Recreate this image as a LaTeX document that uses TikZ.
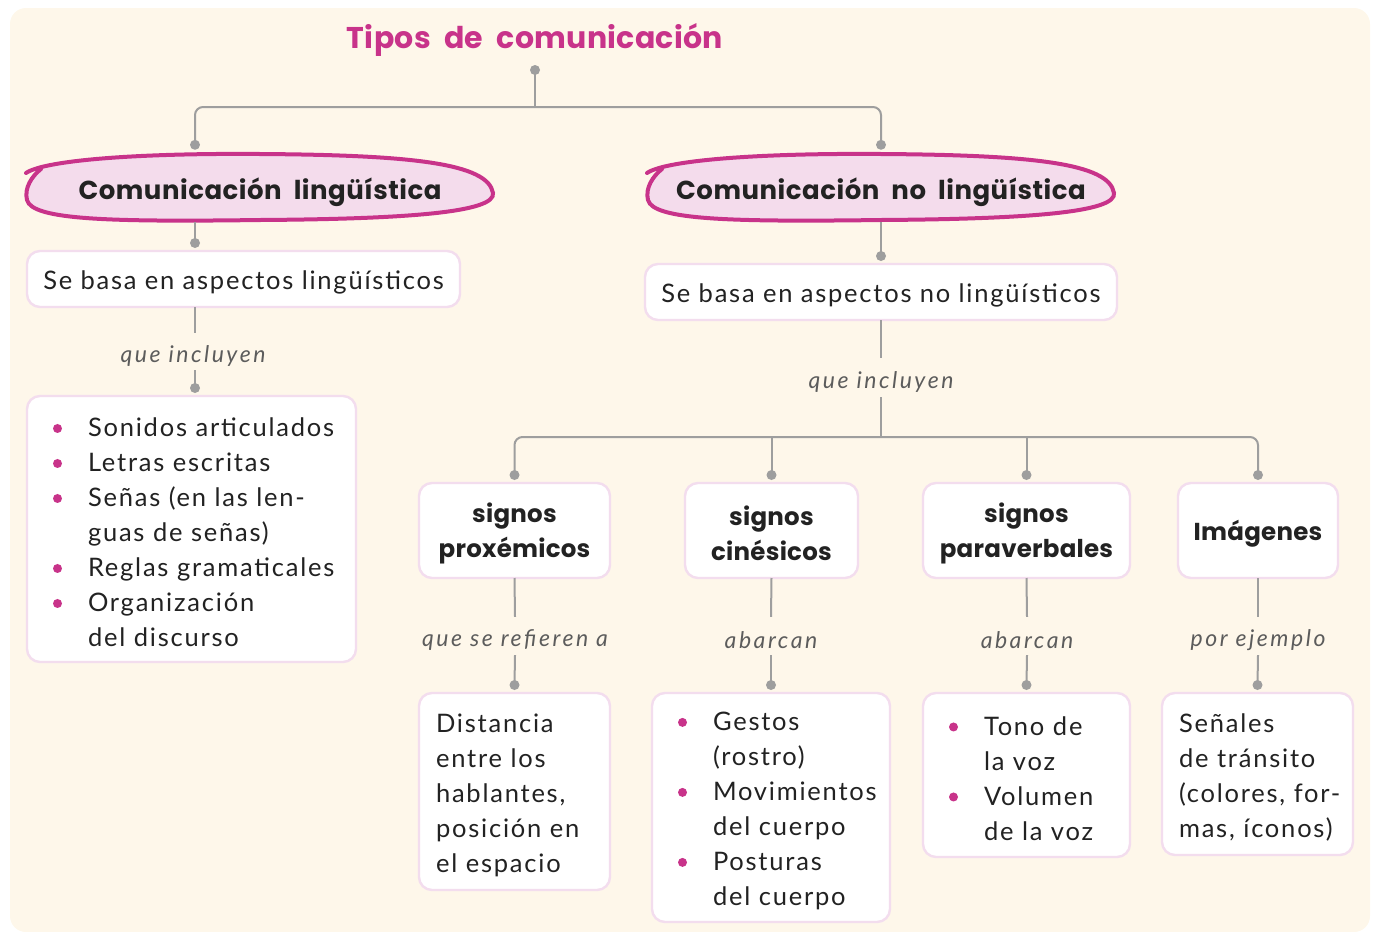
\documentclass[tikz,border=0pt]{standalone}
\usepackage{fontspec}
\setmainfont{Lato}[LetterSpace=7]
\newfontfamily\headfont{Poppins}[LetterSpace=2]
\newfontfamily\boldfont{Poppins}[LetterSpace=1]
\newfontfamily\labfont{Lato}[LetterSpace=11]
\usetikzlibrary{calc}
\definecolor{bgc}{HTML}{FEF7EA}
\definecolor{accent}{HTML}{C8338A}
\definecolor{ellfill}{HTML}{F4DCEC}
\definecolor{boxline}{HTML}{F3DDEE}
\definecolor{linec}{HTML}{9E9E9E}
\definecolor{txt}{HTML}{222222}
\definecolor{labc}{HTML}{5C5C5C}
\newcommand\bul{\makebox[35pt][l]{\tikz[baseline=-0.33em]\fill[accent] (0,0) circle (4.5pt);}}
\newcommand\ind{\hspace*{35pt}}
\newcommand\stb{\rule{0pt}{26pt}}
\newcommand\stl{\rule{0pt}{25pt}}
\newcommand\ste{\rule{0pt}{30pt}}
\newcommand\blobshape{(-234,-15) .. controls (-215,-28) and (-120,-35) .. (0,-34)
  .. controls (150,-33) and (228,-25) .. (233,5)
  .. controls (236,24) and (150,31) .. (0,32)
  .. controls (-150,34) and (-228,32) .. (-233,12)
  .. controls (-236,0) and (-228,-12) .. (-219,-19)}
\tikzset{
  conn/.style={draw=linec, line width=2pt},
  bx/.style={draw=boxline, line width=2.4pt, fill=white, rounded corners=13pt, text=txt,
    font=\fontsize{25.5}{35}\selectfont, outer sep=0pt},
  tb/.style={bx, inner xsep=8pt, inner ysep=0pt, align=left},
  bold/.style={bx, font=\boldfont\bfseries\fontsize{24.5}{35}\selectfont, align=center},
  lab/.style={font=\labfont\itshape\fontsize{23}{26}\selectfont, text=labc, inner sep=0pt, minimum height=38pt},
  head/.style={font=\headfont\bfseries\fontsize{26}{30}\selectfont, text=txt, inner sep=0pt, minimum width=470pt, minimum height=68pt},
}
\begin{document}
\begin{tikzpicture}[x=1pt,y=-1pt]
\useasboundingbox (0,0) rectangle (1374,932);
\fill[bgc, rounded corners=16pt] (10,8) rectangle (1370,932);
% title
\node[font=\boldfont\bfseries\fontsize{30}{34}\selectfont, text=accent, inner sep=0pt] (title) at (535,38) {\rule{0pt}{29pt}Tipos\ \ de\ \ comunicación};
\coordinate (tdot) at (535,70);
\coordinate (bar) at (535,107);
\coordinate (colL) at (195,0);
% ellipses
\coordinate (clc) at (260,188);
\coordinate (crc) at (881,188);
\begin{scope}[shift={(clc)}]
  \fill[ellfill] \blobshape;
  \draw[accent, line width=4pt, line cap=round] \blobshape;
\end{scope}
\begin{scope}[shift={(crc)}]
  \fill[ellfill] \blobshape;
  \draw[accent, line width=4pt, line cap=round] \blobshape;
\end{scope}
\node[head] (cl) at (clc) {\ste Comunicación\ \ lingüística};
\node[head] (cr) at (crc) {\ste Comunicación\ \ no\ \ lingüística};
% boxes
\node[bx, minimum width=433pt, minimum height=56pt, inner sep=0pt] (lb) at (243.5,279) {\stb Se basa en aspectos lingüísticos};
\node[bx, minimum width=472pt, minimum height=56pt, inner sep=0pt] (rb) at (881,292) {\stb Se basa en aspectos no lingüísticos};
\node[tb, minimum height=266pt, text width=313pt] (ll) at (191.5,529) {%
\leftskip=18pt
\stb\bul Sonidos articulados\\
\bul Letras escritas\\
\bul Señas (en las len-\\
\ind guas de señas)\\
\bul Reglas gramaticales\\
\bul Organización\\
\ind del discurso\par};
\node[bold, minimum width=191pt, minimum height=95pt, inner sep=0pt] (p1) at (514.5,530.5) {\stb signos\\proxémicos};
\node[bold, minimum width=173pt, minimum height=95pt, inner sep=0pt] (p2) at (771.5,530.5) {\stb signos\\cinésicos};
\node[bold, minimum width=207pt, minimum height=95pt, inner sep=0pt] (p3) at (1026.5,530.5) {\stb signos\\paraverbales};
\node[bold, minimum width=160pt, minimum height=95pt, inner sep=0pt] (p4) at (1258,530.5) {\stb Imágenes};
\node[tb, minimum height=197pt, text width=175pt] (q1) at (514.5,791.5) {%
\leftskip=9pt
\stb Distancia\\entre los\\hablantes,\\posición en\\el espacio\par};
\node[tb, minimum height=229pt, text width=222pt] (q2) at (771,807.5) {%
\leftskip=18pt
\stb\bul Gestos\\
\ind (rostro)\\
\bul Movimientos\\
\ind del cuerpo\\
\bul Posturas\\
\ind del cuerpo\par};
\node[tb, minimum height=164pt, text width=191pt] (q3) at (1026.5,775) {%
\leftskip=18pt
\stb\bul Tono de\\
\ind la voz\\
\bul Volumen\\
\ind de la voz\par};
\node[tb, minimum height=162pt, text width=175pt] (q4) at (1257.5,774) {%
\leftskip=9pt
\stb Señales\\de tránsito\\(colores, for-\\mas, íconos)\par};
% labels
\node[lab, minimum height=37pt] (la) at (193,351.5) {\stl que incluyen};
\node[lab, minimum height=39pt] (ra) at (881,377.5) {\stl que incluyen};
\node[lab] (t1) at (515,636) {\stl que se refieren a};
\node[lab] (t2) at (771,636) {\stl abarcan};
\node[lab] (t3) at (1027,636) {\stl abarcan};
\node[lab] (t4) at (1258,636) {\stl por ejemplo};
% dot coordinates
\coordinate (dl) at ($(cl.north -| colL)+(0,-9)$);
\coordinate (dr) at ($(cr.north)+(0,-9)$);
\coordinate (d2l) at ($(lb.north -| colL)+(0,-8)$);
\coordinate (d3l) at ($(ll.north -| colL)+(0,-8)$);
\coordinate (d2r) at ($(rb.north)+(0,-8)$);
\coordinate (bar2) at (881,437);
\coordinate (e1) at ($(p1.north)+(0,-8)$);
\coordinate (e2) at ($(p2.north)+(0,-8)$);
\coordinate (e3) at ($(p3.north)+(0,-8)$);
\coordinate (e4) at ($(p4.north)+(0,-8)$);
\coordinate (f1) at ($(q1.north)+(0,-8)$);
\coordinate (f2) at ($(q2.north)+(0,-8)$);
\coordinate (f3) at ($(q3.north)+(0,-8)$);
\coordinate (f4) at ($(q4.north)+(0,-8)$);
% connectors
\draw[conn] (tdot) -- (bar);
\draw[conn, rounded corners=8pt] (dl) |- (bar) -| (dr);
\draw[conn] (cl.south -| colL) -- (d2l);
\draw[conn] (lb.south -| colL) -- (la.north -| colL);
\draw[conn] (la.south -| colL) -- (d3l);
\draw[conn] (cr.south) -- (d2r);
\draw[conn] (rb.south) -- (ra.north);
\draw[conn] (ra.south) -- (bar2);
\draw[conn, rounded corners=8pt] (e1) |- (bar2) -| (e4);
\draw[conn] (e2) -- (e2 |- bar2);
\draw[conn] (e3) -- (e3 |- bar2);
\foreach \i in {1,2,3,4} {
  \draw[conn] (p\i.south) -- (t\i.north);
  \draw[conn] (t\i.south) -- (f\i);
}
\foreach \c in {tdot,dl,dr,d2l,d3l,d2r,e1,e2,e3,e4,f1,f2,f3,f4}
  \fill[linec] (\c) circle (5pt);
\end{tikzpicture}
\end{document}
